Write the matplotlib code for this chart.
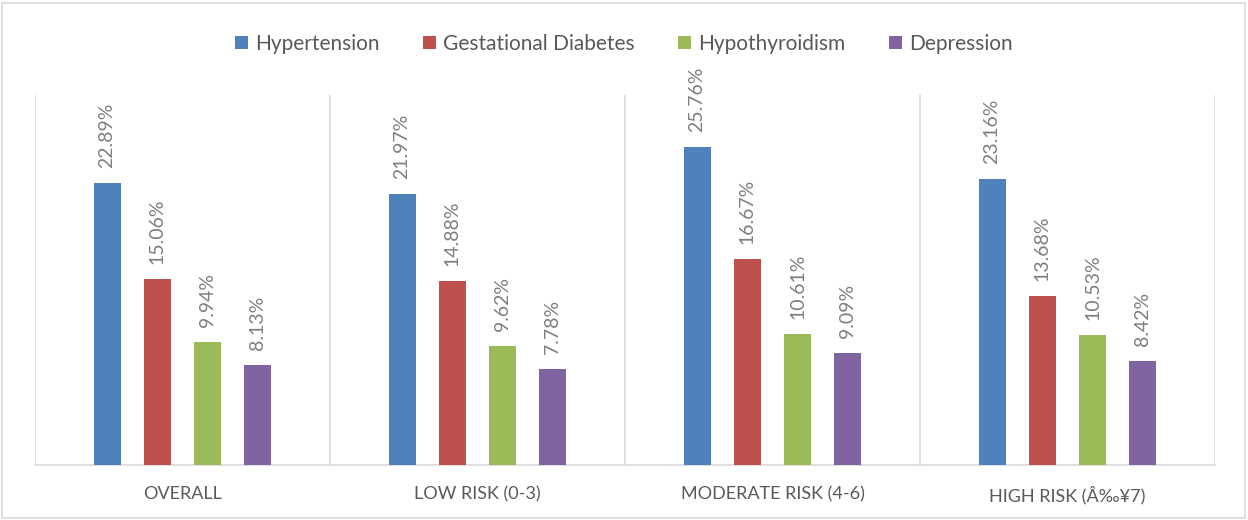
import matplotlib
matplotlib.use("Agg")
import matplotlib.pyplot as plt
import numpy as np
from matplotlib.patches import Rectangle

plt.rcParams['font.family'] = ['Lato', 'DejaVu Sans']

categories = ["OVERALL", "LOW RISK (0-3)", "MODERATE RISK (4-6)", "HIGH RISK (Â‰¥7)"]
series_names = ["Hypertension", "Gestational Diabetes", "Hypothyroidism", "Depression"]
hypertension = [22.89, 21.97, 25.76, 23.16]
gestational_diabetes = [15.06, 14.88, 16.67, 13.68]
hypothyroidism = [9.94, 9.62, 10.61, 10.53]
depression = [8.13, 7.78, 9.09, 8.42]

series = [hypertension, gestational_diabetes, hypothyroidism, depression]
colors = ["#4F81BD", "#C0504D", "#9BBB59", "#8064A2"]

fig = plt.figure(figsize=(12.48, 5.2), dpi=100)
ax = fig.add_axes([35 / 1248, 55 / 520, 1180 / 1248, 370 / 520])

x = np.arange(len(categories))
spacing = 0.1706
width = 0.0915
offsets = (np.arange(len(series)) - 1.5) * spacing

for vals, name, col, off in zip(series, series_names, colors, offsets):
    bars = ax.bar(x + off, vals, width, color=col, label=name, zorder=3)
    for b, v in zip(bars, vals):
        ax.annotate(f"{v:.2f}%", (b.get_x() + b.get_width() / 2, v),
                    xytext=(0, 15), textcoords="offset pixels",
                    rotation=90, ha="center", va="bottom",
                    fontsize=14, color="#7F7F7F")

ax.set_xlim(-0.5, len(categories) - 0.5)
ax.set_ylim(0, 30)
ax.set_yticks([])
ax.set_xticks(x)
ax.set_xticklabels(categories, fontsize=13, color="#595959")
ax.tick_params(axis="x", length=0, pad=15)

for s in ["top", "right", "left"]:
    ax.spines[s].set_visible(False)
ax.spines["bottom"].set_color("#D9D9D9")
ax.spines["bottom"].set_linewidth(1.2)

# category separators
for xv in np.arange(len(categories) + 1) - 0.5:
    ax.axvline(xv, color="#D9D9D9", lw=1.2, zorder=1)

fig.legend(loc="center", bbox_to_anchor=(0.5, 1 - 44 / 520), ncol=4, frameon=False,
           handlelength=0.6, handleheight=0.6, handletextpad=0.35,
           columnspacing=2.1, fontsize=15, labelcolor="#595959")

# outer chart border
fig.patches.append(Rectangle((2 / 1248, 2 / 520), 1243 / 1248, 515 / 520,
                             transform=fig.transFigure, fill=False,
                             edgecolor="#D9D9D9", lw=1.2))

fig.savefig("out.png", dpi=100)
